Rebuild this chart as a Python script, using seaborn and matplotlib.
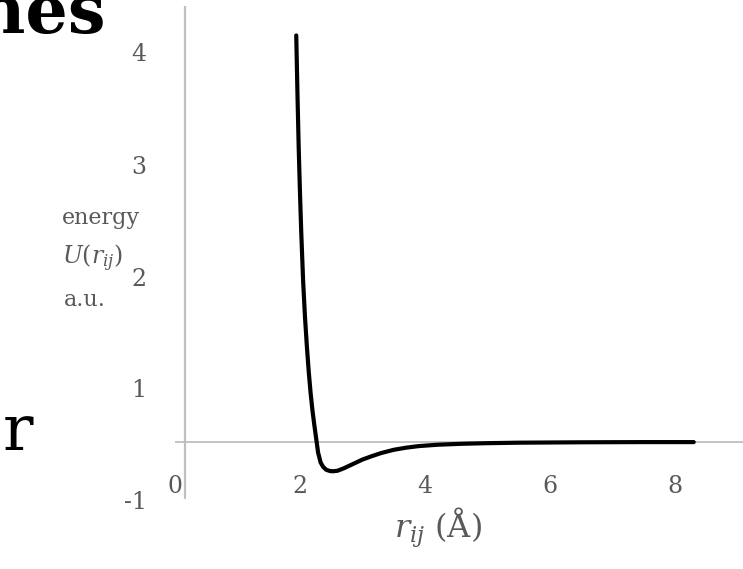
import matplotlib
matplotlib.use("Agg")
import matplotlib.pyplot as plt
import seaborn as sns
import pandas as pd

# ---- data ----
r_values = [1.94, 1.96, 1.98, 2.00, 2.02, 2.05, 2.08, 2.11, 2.14, 2.17, 2.20,
            2.23, 2.26, 2.29, 2.33, 2.37, 2.42, 2.48, 2.53, 2.60, 2.70, 2.80,
            2.90, 3.00, 3.15, 3.30, 3.50, 3.70, 3.90, 4.20, 4.60, 5.00, 5.50,
            6.00, 6.50, 7.00, 7.50, 8.00, 8.30]
u_values = [4.17, 3.55, 3.00, 2.55, 2.15, 1.65, 1.28, 0.98, 0.72, 0.50, 0.32,
            0.17, 0.03, -0.11, -0.21, -0.255, -0.285, -0.298, -0.300, -0.295, -0.27, -0.24,
            -0.21, -0.18, -0.145, -0.113, -0.080, -0.058, -0.042, -0.028, -0.018, -0.012, -0.007,
            -0.005, -0.003, -0.002, -0.001, -0.001, -0.001]
x_tick_values = [0, 2, 4, 6, 8]
x_tick_labels = ["0", "2", "4", "6", "8"]
y_tick_labels = ["4", "3", "2", "1", "-1"]

# positions of the y labels as they appear in the picture (layout)
y_tick_positions = [4.0, 2.841, 1.692, 0.554, -0.595]

df = pd.DataFrame({"r": r_values, "U": u_values})

sns.set_theme(style="white")
plt.rcParams["font.family"] = ["DejaVu Serif"]
plt.rcParams["mathtext.fontset"] = "dejavuserif"

GRAY_TXT = "#595959"
GRAY_LINE = "#bfbfbf"

fig = plt.figure(figsize=(7.43, 5.69), dpi=100)
ax = fig.add_axes([0.23553, 0.12039, 0.76447, 0.86907])

ax.set_xlim(0, 9.088)
ax.set_ylim(-0.60, 4.472)

# axis lines
ax.axhline(0, color=GRAY_LINE, lw=1.3, zorder=1)
ax.axvline(0.16, ymin=0.0051, ymax=1.0, color=GRAY_LINE, lw=1.6, zorder=1)

sns.lineplot(data=df, x="r", y="U", ax=ax, color="black", lw=3.0,
             zorder=3, solid_capstyle="round", solid_joinstyle="round")

for s in ax.spines.values():
    s.set_visible(False)

ax.set_xticks(x_tick_values)
ax.set_xticklabels(x_tick_labels)
ax.set_yticks(y_tick_positions)
ax.set_yticklabels(y_tick_labels)
ax.tick_params(axis="x", length=0, pad=-18.7, labelsize=17, labelcolor=GRAY_TXT)
ax.tick_params(axis="y", length=0, pad=20.5, labelsize=17, labelcolor=GRAY_TXT)
ax.set_xlabel("")
ax.set_ylabel("")
ax.grid(False)

# y-axis title block
fig.text(62 / 743, 1 - 224 / 569, "energy", color=GRAY_TXT, fontsize=16,
         ha="left", va="baseline")
fig.text(62 / 743, 1 - 264 / 569, r"$U(r_{ij})$", color=GRAY_TXT, fontsize=17,
         ha="left", va="baseline")
fig.text(64 / 743, 1 - 306 / 569, "a.u.", color=GRAY_TXT, fontsize=16,
         ha="left", va="baseline")

# x-axis title
fig.text(438 / 743, 1 - 538 / 569, r"$r_{ij}$ (Å)", color=GRAY_TXT, fontsize=23,
         ha="center", va="baseline")

# clipped slide text fragments
fig.text(105 / 743, 1 - 33 / 569, "hes", color="black", fontsize=48,
         fontweight="bold", ha="right", va="baseline")
fig.text(3 / 743, 1 - 450 / 569, "r", color="black", fontsize=46,
         ha="left", va="baseline")

fig.savefig("out.png", dpi=100)
